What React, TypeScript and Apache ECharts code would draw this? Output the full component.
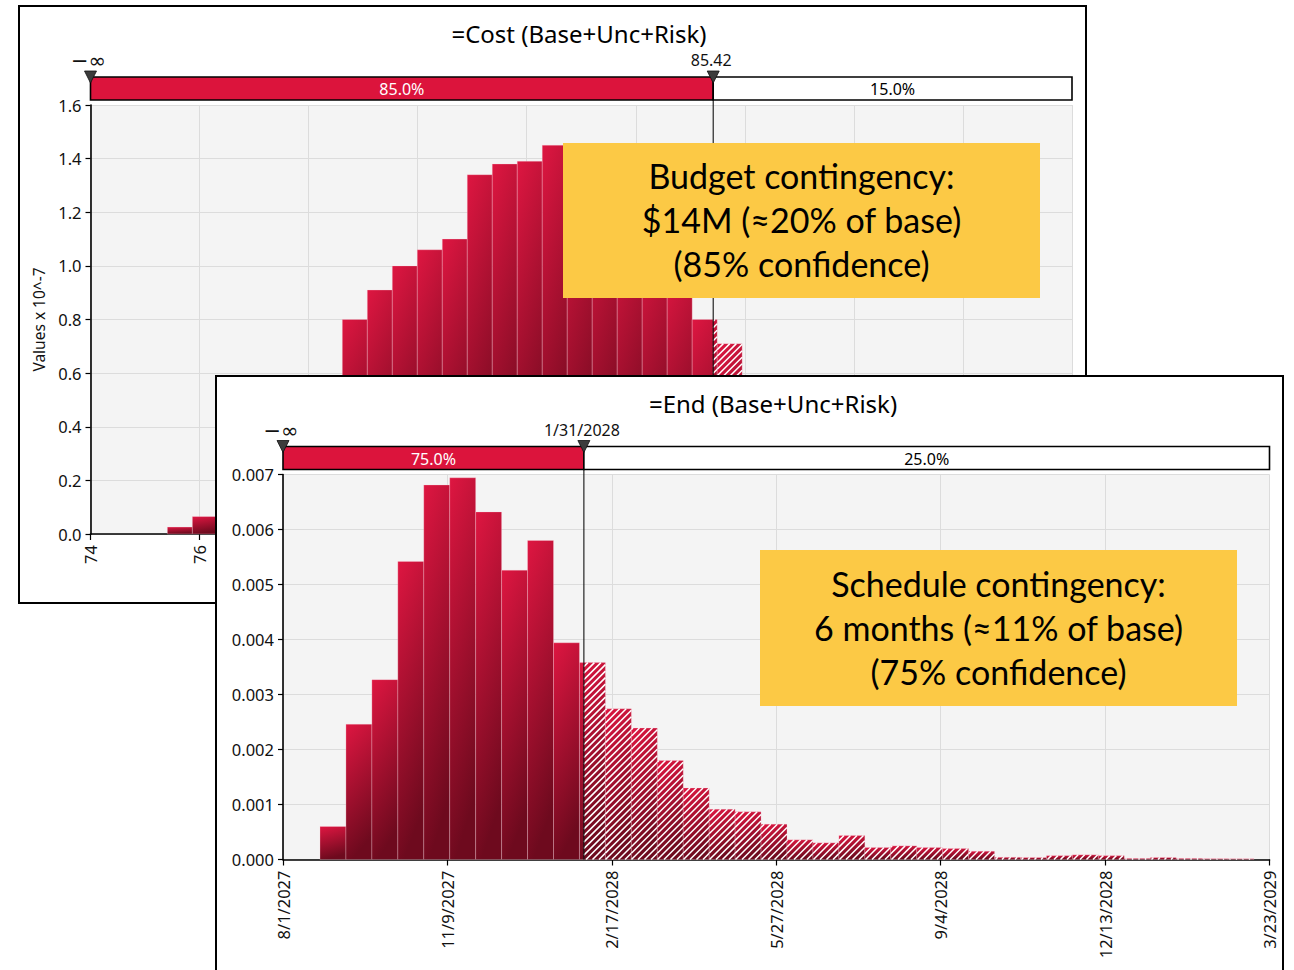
import React, { useEffect, useRef } from "react";
import * as echarts from "echarts";

// ---------------- DATA ----------------
// Cost histogram (values x 10^-7), bins of equal width starting at costBinStart
const costBinStart = 75.41;
const costBinWidth = 0.4583;
const costDensity = [
  0.026, 0.065, 0.1, 0.16, 0.24, 0.34, 0.46, 0.8, 0.91, 1.0, 1.06, 1.1, 1.34, 1.38,
  1.39, 1.45, 1.4, 1.33, 1.22, 1.1, 0.98, 0.8, 0.71, 0.55, 0.45, 0.36, 0.28, 0.22,
  0.17, 0.13, 0.1, 0.07, 0.05, 0.03,
];
const costAxis = { min: 74, max: 92, interval: 2 };
const costYAxis = { min: 0, max: 1.6, interval: 0.2 };
const costThreshold = 85.42;
const costThresholdLabel = "85.42";
const costPercents = ["85.0%", "15.0%"];
const costTitle = "=Cost (Base+Unc+Risk)";
const costNote = ["Budget contingency:", "$14M (≈20% of base)", "(85% confidence)"];

// End-date histogram, bins in days after endBaseDate
const endBaseDate = "2027-08-01";
const endBinStartDay = 22.5;
const endBinWidthDays = 15.78;
const endDensity = [
  0.0006, 0.00246, 0.00327, 0.00542, 0.00681, 0.00694, 0.00632, 0.00526, 0.0058,
  0.00394, 0.00358, 0.00274, 0.00239, 0.0018, 0.0013, 0.000915, 0.000867, 0.000642,
  0.000358, 0.000303, 0.000436, 0.000218, 0.000248, 0.000218, 0.0002, 0.00015,
  0.00004, 0.000036, 0.00007, 0.000085, 0.00007, 0.00002, 0.000036, 0.00002,
  0.000015, 0.000015,
];
const endAxisDays = { min: 0, max: 600, interval: 100 };
const endYAxis = { min: 0, max: 0.007, interval: 0.001 };
const endThresholdDate = "2028-01-31";
const endPercents = ["75.0%", "25.0%"];
const endTitle = "=End (Base+Unc+Risk)";
const endNote = ["Schedule contingency:", "6 months (≈11% of base)", "(75% confidence)"];

// ---------------- HELPERS ----------------
const FONT = "'Noto Sans', 'DejaVu Sans', sans-serif";
const SYM_FONT = "'DejaVu Sans', 'Noto Sans', sans-serif";
const BOX_FONT = "Lato, 'Open Sans', sans-serif";
const TICK_SIZE = 16.5;
const DAY = 86400000;

function parseUTC(s: string) {
  const [y, m, d] = s.split("-").map(Number);
  return Date.UTC(y, m - 1, d);
}
function dayToLabel(v: number) {
  const d = new Date(parseUTC(endBaseDate) + Math.round(v) * DAY);
  return `${d.getUTCMonth() + 1}/${d.getUTCDate()}/${d.getUTCFullYear()}`;
}
const endThresholdDay = (parseUTC(endThresholdDate) - parseUTC(endBaseDate)) / DAY;

function stripeLines(x0: number, y0: number, x1: number, y1: number, step: number) {
  const out: any[] = [];
  const cStart = Math.ceil((x0 + y0) / step) * step;
  for (let c = cStart; c < x1 + y1; c += step) {
    const xa = Math.max(x0, c - y1);
    const xb = Math.min(x1, c - y0);
    if (xb - xa > 0.3) {
      out.push({
        type: "line",
        shape: { x1: xa, y1: c - xa, x2: xb, y2: c - xb },
        style: { stroke: "#ffffff", lineWidth: 1.5 },
        silent: true,
      });
    }
  }
  return out;
}

function histRender(threshold: number) {
  return (params: any, api: any) => {
    const s = api.value(0);
    const e = api.value(1);
    const v = api.value(2);
    const tl = api.coord([s, v]);
    const br = api.coord([e, 0]);
    const x0 = tl[0], y0 = tl[1], x1 = br[0], y1 = br[1];
    const tx = api.coord([threshold, 0])[0];
    const children: any[] = [
      {
        type: "rect",
        shape: { x: x0, y: y0, width: x1 - x0, height: y1 - y0 },
        style: {
          fill: {
            type: "linear",
            x: 0, y: 0, x2: 0.22, y2: 1,
            colorStops: [
              { offset: 0, color: "#DE1641" },
              { offset: 1, color: "#6E0A1E" },
            ],
          },
          stroke: "rgba(255,215,225,0.35)",
          lineWidth: 0.8,
        },
      },
    ];
    if (x1 > tx) {
      const hx0 = Math.max(x0, tx);
      children.push(...stripeLines(hx0, y0, x1, y1, 6.5));
    }
    return { type: "group", children };
  };
}

function textEl(x: number, y: number, text: string, fill: string, font: string, align = "center") {
  return {
    type: "text",
    x,
    y,
    style: { text, fill, font, textAlign: align, textVerticalAlign: "middle" },
    silent: true,
  };
}

function bandRender(xmin: number, xmax: number, ymax: number, label: string, pcts: string[]) {
  return (params: any, api: any) => {
    const t = api.value(0);
    const lt = api.coord([xmin, ymax]);
    const rb = api.coord([xmax, 0]);
    const tx = api.coord([t, 0])[0];
    const gTop = lt[1];
    const gBottom = rb[1];
    const bTop = gTop - 28;
    const bBot = gTop - 5;
    const midY = (bTop + bBot) / 2;
    const tri = (x: number) => ({
      type: "polygon",
      shape: { points: [[x - 6, bTop - 6], [x + 6, bTop - 6], [x, bTop + 6]] },
      style: { fill: "#3C3C3C", stroke: "#111", lineWidth: 0.8 },
    });
    return {
      type: "group",
      children: [
        {
          type: "rect",
          shape: { x: lt[0], y: bTop, width: tx - lt[0], height: bBot - bTop },
          style: { fill: "#DC143C", stroke: "#000", lineWidth: 1.6 },
        },
        {
          type: "rect",
          shape: { x: tx, y: bTop, width: rb[0] - tx, height: bBot - bTop },
          style: { fill: "#ffffff", stroke: "#000", lineWidth: 1.6 },
        },
        {
          type: "line",
          shape: { x1: tx, y1: bBot, x2: tx, y2: gBottom },
          style: { stroke: "#111", lineWidth: 1.1 },
        },
        textEl((lt[0] + tx) / 2, midY + 0.5, pcts[0], "#ffffff", `16px ${FONT}`),
        textEl((tx + rb[0]) / 2, midY + 0.5, pcts[1], "#000000", `16px ${FONT}`),
        tri(lt[0]),
        tri(tx),
        textEl(lt[0] - 2, bTop - 16, "−∞", "#111", `21px ${SYM_FONT}`),
        textEl(tx - 2, bTop - 17, label, "#111", `16px ${FONT}`),
      ],
    };
  };
}

function makeOption(cfg: any) {
  const hist = cfg.density.map((v: number, i: number) => [
    cfg.binStart + i * cfg.binWidth,
    cfg.binStart + (i + 1) * cfg.binWidth,
    v,
  ]);
  return {
    animation: false,
    grid: {
      left: cfg.grid[0],
      top: cfg.grid[1],
      right: cfg.grid[2],
      bottom: cfg.grid[3],
      show: true,
      backgroundColor: "#F4F4F4",
      borderWidth: 0,
    },
    xAxis: {
      type: "value",
      min: cfg.xAxis.min,
      max: cfg.xAxis.max,
      interval: cfg.xAxis.interval,
      axisLine: { show: true, onZero: false, lineStyle: { color: "#000", width: 1.6 } },
      axisTick: { show: true, length: 6, lineStyle: { color: "#000", width: 1.2 } },
      axisLabel: {
        rotate: 90,
        fontSize: TICK_SIZE,
        fontFamily: FONT,
        color: "#111",
        margin: 11,
        formatter: cfg.xFormatter,
        showMinLabel: true,
        showMaxLabel: true,
      },
      splitLine: { show: true, lineStyle: { color: "#DCDCDC", width: 1 } },
    },
    yAxis: {
      type: "value",
      min: cfg.yAxis.min,
      max: cfg.yAxis.max,
      interval: cfg.yAxis.interval,
      name: cfg.yName,
      nameLocation: "middle",
      nameRotate: 90,
      nameGap: 34,
      nameTextStyle: { fontSize: 15.5, fontFamily: FONT, color: "#111" },
      axisLine: { show: true, lineStyle: { color: "#000", width: 1.6 } },
      axisTick: { show: true, length: 5, lineStyle: { color: "#000", width: 1.2 } },
      axisLabel: {
        fontSize: TICK_SIZE,
        fontFamily: FONT,
        color: "#111",
        margin: 9,
        formatter: (v: number) => v.toFixed(cfg.yDigits),
      },
      splitLine: { show: true, lineStyle: { color: "#DCDCDC", width: 1 } },
    },
    series: [
      {
        type: "custom",
        z: 2,
        renderItem: histRender(cfg.threshold),
        encode: { x: [0, 1], y: 2 },
        data: hist,
        silent: true,
      },
      {
        type: "custom",
        z: 4,
        clip: false,
        renderItem: bandRender(cfg.xAxis.min, cfg.xAxis.max, cfg.yAxis.max, cfg.thresholdLabel, cfg.percents),
        encode: { x: 0, y: 1 },
        data: [[cfg.threshold, 0]],
        silent: true,
      },
    ],
    graphic: {
      elements: [
        {
          type: "text",
          x: cfg.titlePos[0],
          y: cfg.titlePos[1],
          z: 100,
          style: {
            text: cfg.title,
            fill: "#000",
            font: `24px ${FONT}`,
            textAlign: "center",
            textVerticalAlign: "middle",
          },
        },
        {
          type: "rect",
          z: 100,
          shape: { x: cfg.box[0], y: cfg.box[1], width: cfg.box[2], height: cfg.box[3] },
          style: { fill: "#FCC945" },
        },
        {
          type: "text",
          z: 101,
          x: cfg.box[0] + cfg.box[2] / 2,
          y: cfg.box[1] + cfg.box[3] / 2 - 1,
          style: {
            text: cfg.note.join("\n"),
            fill: "#000",
            font: `34px ${BOX_FONT}`,
            lineHeight: 44,
            textAlign: "center",
            textVerticalAlign: "middle",
          },
        },
      ],
    },
  };
}

const costOption = makeOption({
  density: costDensity,
  binStart: costBinStart,
  binWidth: costBinWidth,
  grid: [70.5, 98, 13, 68],
  xAxis: costAxis,
  yAxis: costYAxis,
  yDigits: 1,
  yName: "Values x 10^-7",
  xFormatter: (v: number) => String(Math.round(v)),
  threshold: costThreshold,
  thresholdLabel: costThresholdLabel,
  percents: costPercents,
  title: costTitle,
  titlePos: [559, 26],
  box: [543, 136, 477, 155],
  note: costNote,
});

const endOption = makeOption({
  density: endDensity,
  binStart: endBinStartDay,
  binWidth: endBinWidthDays,
  grid: [66, 97.5, 12.5, 117.5],
  xAxis: endAxisDays,
  yAxis: endYAxis,
  yDigits: 3,
  yName: "",
  xFormatter: dayToLabel,
  threshold: endThresholdDay,
  thresholdLabel: dayToLabel(endThresholdDay),
  percents: endPercents,
  title: endTitle,
  titlePos: [556, 26],
  box: [543, 173, 477, 156],
  note: endNote,
});

function Chart({ option, width, height }: { option: any; width: number; height: number }) {
  const ref = useRef<HTMLDivElement | null>(null);
  useEffect(() => {
    if (!ref.current) return;
    const chart = echarts.init(ref.current, null, { renderer: "svg" });
    chart.setOption(option);
    return () => chart.dispose();
  }, [option]);
  return <div ref={ref} style={{ width, height }} />;
}

export default function App() {
  return (
    <div
      style={{
        position: "fixed",
        left: 0,
        top: 0,
        width: 1294,
        height: 970,
        overflow: "hidden",
        background: "#fff",
      }}
    >
      <div
        style={{
          position: "absolute",
          left: 18,
          top: 5,
          border: "2px solid #000",
          background: "#fff",
          zIndex: 1,
        }}
      >
        <Chart option={costOption} width={1065} height={595} />
      </div>
      <div
        style={{
          position: "absolute",
          left: 215,
          top: 375,
          border: "2px solid #000",
          background: "#fff",
          zIndex: 2,
        }}
      >
        <Chart option={endOption} width={1065} height={600} />
      </div>
    </div>
  );
}
